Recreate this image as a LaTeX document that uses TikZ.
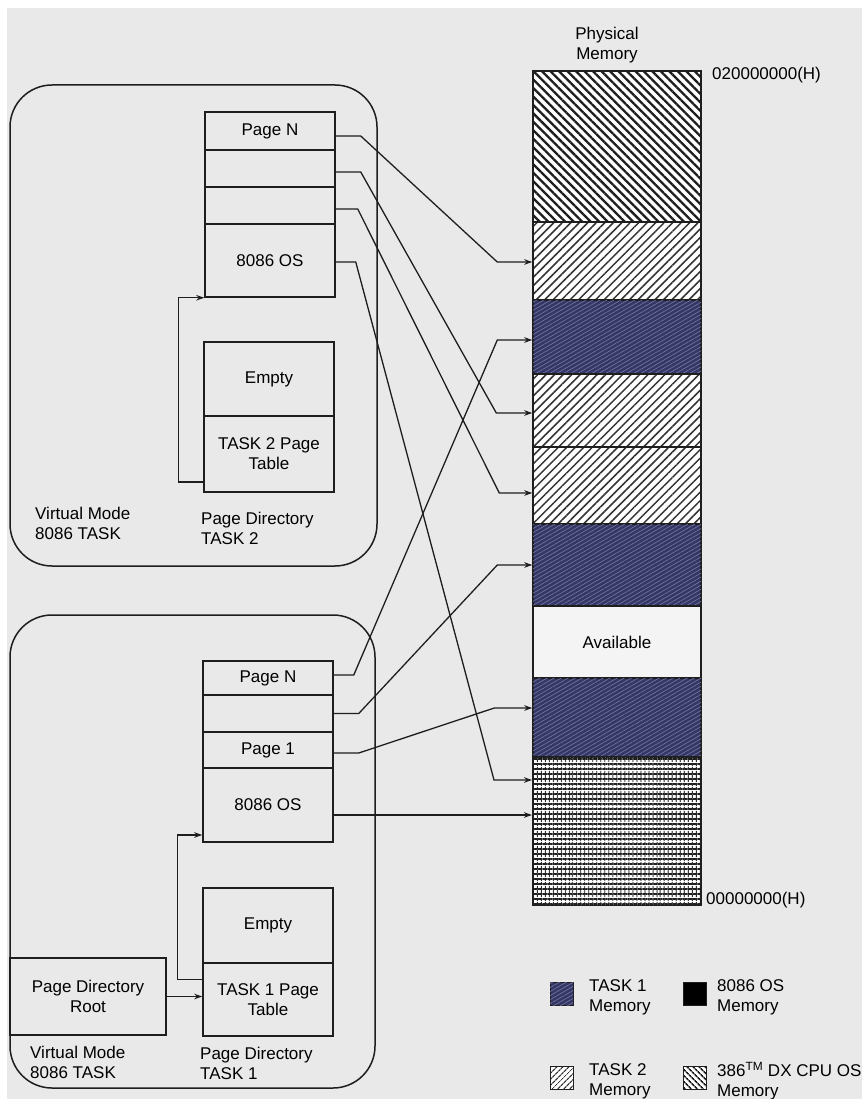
\documentclass[tikz,border=0pt]{standalone}
\usepackage{fontspec}
\setmainfont{Liberation Sans}
\usetikzlibrary{arrows.meta,patterns.meta}
\definecolor{bg}{HTML}{E9E9E9}
\definecolor{ink}{HTML}{1E1E1E}
\definecolor{tone}{RGB}{52,54,100}
\definecolor{speck}{RGB}{112,116,162}
\definecolor{avail}{HTML}{F4F4F4}
\definecolor{hatch}{HTML}{333333}
\begin{document}
\begin{tikzpicture}[x=1pt,y=-1pt,
  font=\fontsize{17}{20}\selectfont,
  cell/.style={draw=ink, line width=1.5pt, fill=bg, minimum width=130pt, inner sep=0pt, align=center},
  mem/.style={draw=ink, line width=1.4pt, minimum width=168pt, inner sep=0pt},
  osmem/.style={mem, preaction={fill=white}, pattern={Lines[angle=-45,distance=6pt,line width=2.3pt]}, pattern color=ink},
  tasktwo/.style={mem, preaction={fill=white}, pattern={Lines[angle=45,distance=6pt,line width=1.5pt]}, pattern color=hatch},
  taskone/.style={mem, fill=tone, postaction={pattern={Lines[angle=30,distance=3.5pt,line width=0.7pt]}, pattern color=speck}},
  gridmem/.style={mem, preaction={fill=white}, pattern={Lines[angle=0,distance=5pt,line width=2pt]}, pattern color=ink,
     postaction={pattern={Lines[angle=90,distance=4pt,line width=1.2pt]}, pattern color=ink}},
  frame/.style={draw=ink, line width=1.5pt, rounded corners=42pt},
  conn/.style={draw=ink, line width=1.3pt, -{Stealth[length=8pt,width=5.5pt]}},
  lbl/.style={align=left, inner sep=0pt, anchor=west},
  keybox/.style={draw=ink, line width=0.6pt, minimum size=23pt, inner sep=0pt}
]
\useasboundingbox (0,0) rectangle (862,1099);
\fill[white] (0,0) rectangle (862,1099);
\fill[bg] (7,8) rectangle (862,1099);

% task frames
\draw[frame] (10,85) rectangle (377,566);
\draw[frame] (10,615) rectangle (375,1088);

% upper page table (task 2)
\node[cell, minimum height=38pt] (uN) at (270,131) {Page N};
\node[cell, minimum height=37pt] (u2) at (270,168.5) {};
\node[cell, minimum height=37pt] (u3) at (270,205.5) {};
\node[cell, minimum height=73pt] (uOS) at (270,260.5) {8086 OS};
\node[cell, minimum height=74pt] (uE) at (269,379) {Empty};
\node[cell, minimum height=76pt] (uPT) at (269,454) {TASK 2 Page\\Table};

% lower page table (task 1)
\node[cell, minimum height=34pt] (lN) at (268,678) {Page N};
\node[cell, minimum height=37pt] (l2) at (268,713.5) {};
\node[cell, minimum height=36pt] (l1) at (268,750) {Page 1};
\node[cell, minimum height=74pt] (lOS) at (268,805) {8086 OS};
\node[cell, minimum height=75pt] (lE) at (268,925.5) {Empty};
\node[cell, minimum height=73pt] (lPT) at (268,999.5) {TASK 1 Page\\Table};
\node[cell, minimum width=156pt, minimum height=77pt] (root) at (88,996.5) {Page Directory\\Root};

% physical memory
\node[osmem, minimum height=151pt] (m1) at (617,146.5) {};
\node[tasktwo, minimum height=78pt] (m2) at (617,261) {};
\node[taskone, minimum height=74pt] (m3) at (617,337) {};
\node[tasktwo, minimum height=73pt] (m4) at (617,410.5) {};
\node[tasktwo, minimum height=77pt] (m5) at (617,485.5) {};
\node[taskone, minimum height=82pt] (m6) at (617,565) {};
\node[mem, fill=avail, minimum height=72pt] (m7) at (617,642) {Available};
\node[taskone, minimum height=79pt] (m8) at (617,717.5) {};
\node[gridmem, minimum height=148pt] (m9) at (617,831) {};

% labels
\node[align=center, inner sep=0pt] (pm) at (607,45) {Physical\\Memory};
\node[lbl] (top) at (712,75) {020000000(H)};
\node[lbl] (bot) at (706,900) {00000000(H)};
\node[lbl] (vm2) at (35,523) {Virtual Mode\\8086 TASK};
\node[lbl] (pd2) at (201,528) {Page Directory\\TASK 2};
\node[lbl] (vm1) at (30,1062) {Virtual Mode\\8086 TASK};
\node[lbl] (pd1) at (200,1063) {Page Directory\\TASK 1};

% connectors from task 2 table
\draw[conn] ([yshift=-5pt]uN.east) -- ++(25,0) -- ([xshift=-35pt,yshift=-1pt]m2.west) -- ([yshift=-1pt]m2.west);
\draw[conn] ([yshift=-3.5pt]u2.east) -- ++(25,0) -- ([xshift=-36pt,yshift=-2.5pt]m4.west) -- ([yshift=-2.5pt]m4.west);
\draw[conn] ([yshift=-3.5pt]u3.east) -- ++(22,0) -- ([xshift=-33pt,yshift=-7.5pt]m5.west) -- ([yshift=-7.5pt]m5.west);
\draw[conn] ([yshift=-1.5pt]uOS.east) -- ++(20,0) -- ([xshift=-38pt,yshift=51pt]m9.west) -- ([yshift=51pt]m9.west);

% connectors from task 1 table
\draw[conn] ([yshift=3pt]lN.east) -- ++(20,0) -- ([xshift=-35pt,yshift=-3pt]m3.west) -- ([yshift=-3pt]m3.west);
\draw[conn] (l2.east) -- ++(25,0) -- ([xshift=-35pt]m6.west) -- (m6.west);
\draw[conn] ([yshift=-3pt]l1.east) -- ++(25,0) -- ([xshift=-38pt,yshift=9.5pt]m8.west) -- ([yshift=9.5pt]m8.west);
\draw[conn] ([yshift=-10pt]lOS.east) -- ([yshift=16pt]m9.west);

% directory links
\draw[conn] ([yshift=-28pt]uPT.west) -- ++(-25,0) |- (uOS.south west);
\draw[conn] ([yshift=20pt]lPT.west) -- ++(-25,0) |- ([yshift=-30pt]lOS.west);
\draw[conn] (root.east) -- (root.east -| lPT.west);

% legend
\node[keybox, fill=tone, postaction={pattern={Lines[angle=30,distance=3.5pt,line width=0.7pt]}, pattern color=speck}] (k1) at (561.5,993.5) {};
\node[lbl] (k1t) at (589,997) {TASK 1\\Memory};
\node[keybox, fill=black] (k2) at (695,993.5) {};
\node[lbl] (k2t) at (717,997) {8086 OS\\Memory};
\node[keybox, preaction={fill=white}, pattern={Lines[angle=45,distance=4pt,line width=1.3pt]}, pattern color=hatch] (k3) at (561.5,1078) {};
\node[lbl] (k3t) at (589,1081) {TASK 2\\Memory};
\node[keybox, preaction={fill=white}, pattern={Lines[angle=-45,distance=4pt,line width=1.7pt]}, pattern color=ink] (k4) at (695,1078) {};
\node[lbl] (k4t) at (717,1081) {386\textsuperscript{TM} DX CPU OS\\Memory};
\end{tikzpicture}
\end{document}
